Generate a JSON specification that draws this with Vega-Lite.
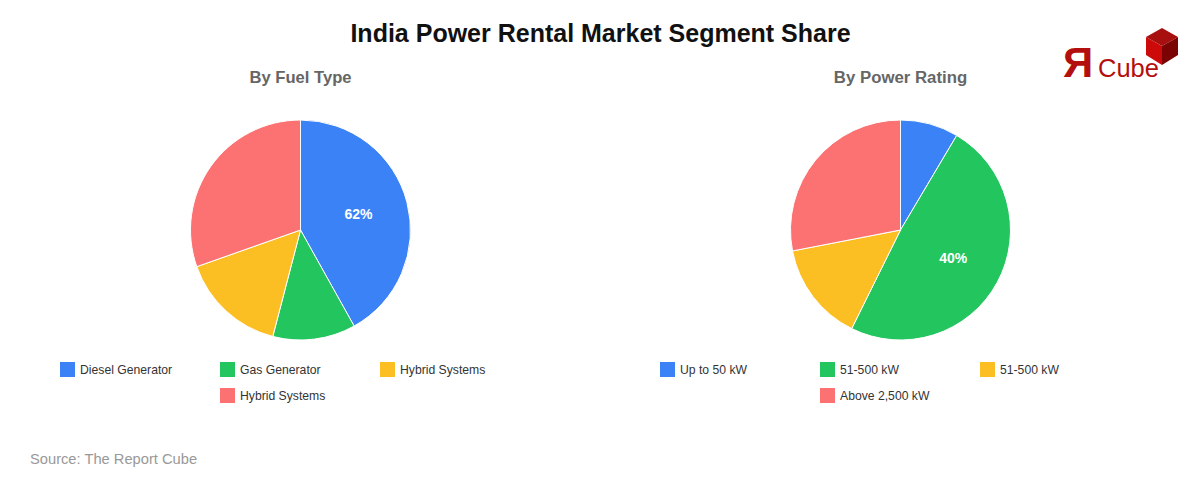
{
  "$schema": "https://vega.github.io/schema/vega-lite/v6.json",
  "padding": { "top": 22, "left": 0, "right": 0, "bottom": 0 },
  "background": "white",
  "title": { "text": "India Power Rental Market Segment Share", "fontSize": 25, "fontWeight": "bold", "color": "#111111", "anchor": "middle", "offset": 0, "dy": 19 },
  "config": {
    "font": "Liberation Sans",
    "view": { "stroke": null },
    "legend": { "gridAlign": "all" }
  },
  "datasets": {
    "fuel": [
      { "name": "Diesel Generator", "share": 62, "rank": 1, "label": "62%" },
      { "name": "Gas Generator", "share": 18, "rank": 2, "label": "" },
      { "name": "Hybrid Systems", "share": 23, "rank": 3, "label": "" },
      { "name": "Hybrid Systems ", "share": 45, "rank": 4, "label": "" }
    ],
    "rating": [
      { "name": "Up to 50 kW", "share": 7, "rank": 1, "label": "" },
      { "name": "51-500 kW", "share": 40, "rank": 2, "label": "40%" },
      { "name": "51-500 kW ", "share": 12, "rank": 3, "label": "" },
      { "name": "Above 2,500 kW", "share": 23, "rank": 4, "label": "" }
    ]
  },
  "bounds": "flush",
  "spacing": 0,
  "resolve": { "scale": { "color": "independent", "theta": "independent" }, "legend": { "color": "independent" } },
  "hconcat": [
    {
      "width": 601,
      "height": 240,
      "title": { "text": "By Fuel Type", "fontSize": 16.6, "fontWeight": "bold", "color": "#666666", "anchor": "middle", "offset": 23 },
      "data": { "name": "fuel" },
      "layer": [
        {
          "mark": { "type": "arc", "outerRadius": 110, "stroke": "white", "strokeWidth": 1 },
          "encoding": {
            "theta": { "field": "share", "type": "quantitative", "stack": true },
            "order": { "field": "rank", "type": "quantitative" },
            "color": {
              "field": "name",
              "type": "nominal",
              "scale": {
                "domain": ["Diesel Generator", "Gas Generator", "Hybrid Systems", " ", "Hybrid Systems "],
                "range": ["#3b82f6", "#22c55e", "#fbbf24", "transparent", "#fc7272"]
              },
              "legend": {
                "title": null,
                "orient": "none",
                "direction": "horizontal",
                "legendX": 60,
                "legendY": 252,
                "columns": 3,
                "columnPadding": 47,
                "rowPadding": 11,
                "symbolType": "square",
                "symbolSize": 225,
                "symbolStrokeWidth": 0,
                "labelFontSize": 12.2,
                "labelColor": "#333333",
                "labelOffset": 5
              }
            }
          }
        },
        {
          "mark": { "type": "text", "radius": 60, "fill": "white", "fontSize": 14, "fontWeight": "bold" },
          "encoding": {
            "theta": { "field": "share", "type": "quantitative", "stack": true },
            "order": { "field": "rank", "type": "quantitative" },
            "detail": { "field": "name" },
            "text": { "field": "label" }
          }
        },
        {
          "data": { "values": [{ "source": "Source: The Report Cube" }] },
          "mark": { "type": "text", "x": 30, "y": 350, "align": "left", "fontSize": 14.7, "color": "#999999" },
          "encoding": { "text": { "field": "source" } }
        }
      ]
    },
    {
      "width": 599,
      "height": 240,
      "title": { "text": "By Power Rating", "fontSize": 16.8, "fontWeight": "bold", "color": "#666666", "anchor": "middle", "offset": 23 },
      "data": { "name": "rating" },
      "layer": [
        {
          "mark": { "type": "arc", "outerRadius": 110, "stroke": "white", "strokeWidth": 1 },
          "encoding": {
            "theta": { "field": "share", "type": "quantitative", "stack": true },
            "order": { "field": "rank", "type": "quantitative" },
            "color": {
              "field": "name",
              "type": "nominal",
              "scale": {
                "domain": ["Up to 50 kW", "51-500 kW", "51-500 kW ", " ", "Above 2,500 kW"],
                "range": ["#3b82f6", "#22c55e", "#fbbf24", "transparent", "#fc7272"]
              },
              "legend": {
                "title": null,
                "orient": "none",
                "direction": "horizontal",
                "legendX": 59,
                "legendY": 252,
                "columns": 3,
                "columnPadding": 50,
                "rowPadding": 11,
                "symbolType": "square",
                "symbolSize": 225,
                "symbolStrokeWidth": 0,
                "labelFontSize": 12.2,
                "labelColor": "#333333",
                "labelOffset": 5
              }
            }
          }
        },
        {
          "mark": { "type": "text", "radius": 60, "fill": "white", "fontSize": 14, "fontWeight": "bold" },
          "encoding": {
            "theta": { "field": "share", "type": "quantitative", "stack": true },
            "order": { "field": "rank", "type": "quantitative" },
            "detail": { "field": "name" },
            "text": { "field": "label" }
          }
        }
      ]
    },
    {
      "width": 1,
      "height": 1,
      "layer": [
        {
          "data": { "values": [{ "logo": "Я" }] },
          "mark": { "type": "text", "x": -137, "y": -33, "align": "left", "baseline": "alphabetic", "fontSize": 42, "fontWeight": "bold", "color": "#b40f0f" },
          "encoding": { "text": { "field": "logo" } }
        },
        {
          "data": { "values": [{ "logo": "Cube" }] },
          "mark": { "type": "text", "x": -102, "y": -33, "align": "left", "baseline": "alphabetic", "fontSize": 25.5, "color": "#b40f0f" },
          "encoding": { "text": { "field": "logo" } }
        },
        {
          "data": { "values": [{ "face": "top" }] },
          "mark": { "type": "point", "x": -38, "y": -64, "filled": true, "opacity": 1, "size": 1600, "color": "#a80f0f", "shape": "M0,-0.9 L0.8,-0.45 L0,0 L-0.8,-0.45 Z" }
        },
        {
          "data": { "values": [{ "face": "left" }] },
          "mark": { "type": "point", "x": -38, "y": -64, "filled": true, "opacity": 1, "size": 1600, "color": "#cc0a0a", "shape": "M-0.8,-0.45 L0,0 L0,0.95 L-0.8,0.45 Z" }
        },
        {
          "data": { "values": [{ "face": "right" }] },
          "mark": { "type": "point", "x": -38, "y": -64, "filled": true, "opacity": 1, "size": 1600, "color": "#7a0303", "shape": "M0.8,-0.45 L0,0 L0,0.95 L0.8,0.45 Z" }
        }
      ]
    }
  ]
}
